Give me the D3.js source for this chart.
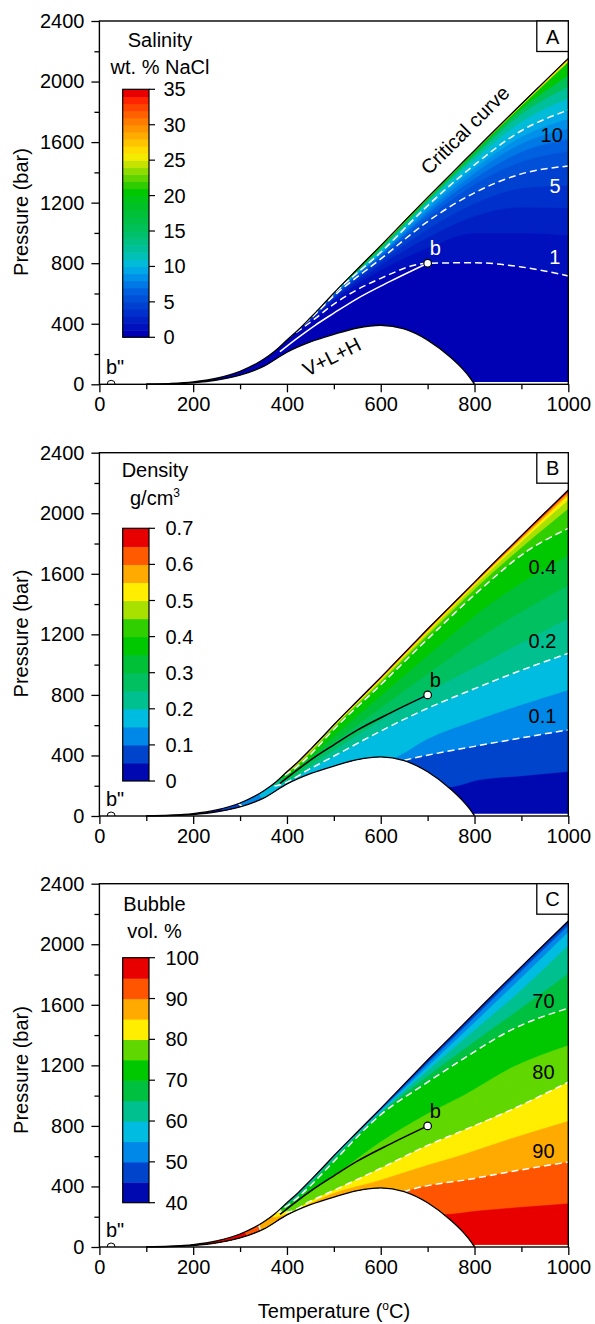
<!DOCTYPE html>
<html>
<head>
<meta charset="utf-8">
<script src="https://cdn.jsdelivr.net/npm/d3@7/dist/d3.min.js"></script>
<style>
html,body{margin:0;padding:0;background:#fff;}
svg{display:block;}
</style>
</head>
<body>
<svg id="fig" width="595" height="1324" xmlns="http://www.w3.org/2000/svg"></svg>
<script>
// ---------------- shared data ----------------
const xTicks = [0, 200, 400, 600, 800, 1000];
const xMinorTicks = [100, 300, 500, 700, 900];
const yTicks = [0, 400, 800, 1200, 1600, 2000, 2400];
const yMinorTicks = [200, 600, 1000, 1400, 1800, 2200];

// critical curve (T degC, P bar)
const criticalCurve = [[100,1],[150,5],[200,15.5],[250,40],[300,86],[350,165],[375,222],[400,292],[425,362],[450,440],[475,520],[500,603],[550,760],[600,916],[650,1076],[700,1235],[750,1390],[800,1545],[850,1700],[900,1852],[950,2003],[1000,2153]];
// V+L+H curve
const vlhCurve = [[100,0.5],[150,3],[200,10],[250,27],[300,60],[350,118],[400,212],[450,280],[500,330],[550,372],[600,390],[650,366],[700,292],[750,175],[775,100],[790,45],[800,0]];
const floorPressure = 15;
const pointB = [700, 800];
const pointB2 = [25, 0];
const pathB = [[385,215],[420,300],[460,390],[500,470],[549,565],[620,680],[700,800]];

// ---------------- panel A: salinity ----------------
const salinityLevels = [1,2,3,4,5,6,7,8,9,10,12,15,20,25,30];
const salinityGridT = [400,450,500,600,700,800,900,1000];
const salinityGridP = [
  [300,410,530,700,800,803,775,716],
  [302,420,555,755,900,1000,1000,985],
  [304,426,568,790,970,1110,1170,1165],
  [306,430,577,810,1025,1195,1295,1315],
  [308,433,583,828,1075,1265,1390,1442],
  [310,435,588,842,1100,1320,1470,1540],
  [312,436,591,852,1125,1360,1535,1620],
  [314,437,594,860,1145,1395,1590,1690],
  [316,438,596,866,1165,1425,1635,1755],
  [318,439,598,872,1180,1450,1675,1812],
  [320,440,600,884,1198,1485,1735,1890],
  [322,441,601,895,1212,1510,1785,1965],
  [324,442,602,904,1222,1528,1820,2040],
  [326,443,602.5,910,1229,1540,1840,2130],
  [328,444,603,913,1233,1544,1849,2145]
];
const salinityDashed = [1,5,10];
const salinityColors = ["#0000b4","#0010bc","#0020c4","#0030cc","#0040d0","#0050d8","#0060e0","#0078e6","#0090ea","#00a8e8","#00bcd8","#00c0b8","#00c09c","#00c084","#00c06c","#00c058","#00c048","#00c038","#00c028","#00c418","#00c800","#30cc00","#60d400","#90dc00","#c4e400","#f4ec00","#ffdc00","#ffc400","#ffac00","#ff9400","#ff7c00","#ff6000","#ff4400","#ff2400","#e80000"];
const salinityCbTicks = [0,5,10,15,20,25,30,35];
const salinityLabels = [["10",964.5,1644,"#000"],["5",971.6,1313,"#fff"],["1",971,838,"#fff"]];

// ---------------- panel B: density ----------------
const densityLevels = [0.05,0.1,0.15,0.2,0.25,0.3,0.35,0.4,0.45,0.5,0.55,0.6,0.65];
const densityIsolines = [
  [[200,100],[250,100],[265,30],[300,42],[370,100],[420,170],[500,250],[600,300],[700,230],[745,192],[811,239],[900,265],[1000,294]],
  [[280,150],[310,60],[370,110],[420,180],[500,260],[600,330],[655,372],[800,460],[1000,569]],
  [[330,250],[350,110],[420,190],[500,280],[560,330],[630,385],[700,510],[800,630],[900,735],[1000,833]],
  [[350,190],[385,206],[450,313],[492,382],[598,558],[700,712],[776,811],[883,943],[1000,1075]],
  [[375,235],[400,240],[450,335],[492,420],[598,630],[700,820],[811,1000],[1000,1306]],
  [[375,235],[400,255],[450,360],[492,465],[598,710],[700,940],[811,1180],[1000,1526]],
  [[375,235],[400,268],[450,385],[492,505],[598,790],[700,1060],[811,1350],[1000,1724]],
  [[375,235],[400,278],[450,405],[492,547],[598,861],[700,1169],[811,1492],[914,1754],[1000,1900]],
  [[375,235],[400,284],[450,420],[492,560],[598,880],[700,1195],[811,1530],[1000,2032]],
  [[375,235],[400,287],[450,428],[492,568],[598,892],[700,1212],[811,1555],[1000,2090]],
  [[375,235],[400,289],[450,433],[492,573],[598,899],[700,1222],[811,1565],[1000,2120]],
  [[375,235],[400,290],[450,436],[492,576],[598,903],[700,1228],[811,1572],[1000,2135]],
  [[375,235],[400,291],[450,438],[492,578],[598,906],[700,1232],[811,1577],[1000,2146]]
];
const densityDashed = [0.1,0.2,0.4];
const densityColors = ["#0008b0","#0044cc","#0088e8","#00bce0","#00c090","#00c060","#00c038","#00c800","#30d000","#a8e000","#ffee00","#ffaa00","#ff5a00","#e80000"];
const densityCbTicks = [0,0.1,0.2,0.3,0.4,0.5,0.6,0.7];
const densityLabels = [["0.4",945,1647,"#000"],["0.2",945,1157,"#000"],["0.1",945,662,"#000"]];

// ---------------- panel C: bubble volume ----------------
const bubbleLevels = [45,50,55,60,65,70,75,80,85,90,95];
const bubbleIsolines = [
  [[50,400],[375,235],[400,291],[450,438],[492,579],[598,906],[700,1228],[811,1570],[883,1793],[1000,2145]],
  [[50,400],[375,235],[400,290],[450,436],[492,576],[598,900],[700,1213],[811,1550],[883,1771],[1000,2123]],
  [[50,400],[375,235],[400,288],[450,433],[492,572],[598,893],[700,1191],[811,1515],[883,1727],[1000,2079]],
  [[50,400],[375,235],[400,285],[450,428],[492,565],[598,886],[700,1165],[811,1460],[883,1650],[1000,1991]],
  [[50,400],[375,235],[400,280],[450,420],[492,555],[598,878],[700,1127],[811,1380],[883,1540],[1000,1804]],
  [[50,400],[375,235],[400,272],[450,405],[492,540],[598,869],[700,1089],[776,1243],[883,1441],[1000,1578]],
  [[50,400],[375,235],[400,255],[450,360],[492,450],[598,690],[700,880],[776,1000],[883,1190],[1000,1331]],
  [[50,400],[375,235],[400,230],[450,303],[492,363],[598,517],[700,671],[776,770],[883,913],[1000,1089]],
  [[50,500],[350,300],[372,195],[400,218],[450,287],[492,345],[598,440],[700,540],[776,610],[883,720],[1000,830]],
  [[50,500],[330,250],[345,110],[380,130],[420,180],[500,250],[620,330],[655,370],[800,453],[900,510],[1000,561]],
  [[50,500],[300,150],[320,55],[370,100],[420,170],[500,250],[600,300],[700,220],[735,215],[811,239],[900,262],[1000,286]]
];
const bubbleDashed = [70,80,90];
const bubbleColors = ["#0008b0","#0044cc","#0088e8","#00bce0","#00c090","#00c040","#00c800","#60d800","#ffee00","#ffaa00","#ff5500","#e80000"];
const bubbleCbTicks = [40,50,60,70,80,90,100];
const bubbleLabels = [["70",947,1626,"#000"],["80",947,1153,"#000"],["90",947,637,"#000"]];

// ---------------- rendering ----------------
const FONT = "'Liberation Sans', Arial, Helvetica, sans-serif";
const FS = 20;
const plotLeft = 99.4, plotRight = 568.3;
const cbLeft = 122.7, cbRight = 149;
const svg = d3.select("#fig").attr("font-family", FONT);
const defs = svg.append("defs");

function addTitle(g, cx, baseline, segs) {
  const t = g.append("text").attr("x", cx).attr("y", baseline)
    .attr("text-anchor", "middle").attr("font-size", FS).attr("fill", "#000");
  segs.forEach(s => {
    if (s.sup) {
      t.append("tspan").attr("font-size", 12).attr("dy", -8).text(s.t);
    } else {
      t.append("tspan").attr("font-size", FS).text(s.t);
    }
  });
}

function drawPanel(cfg) {
  const x = d3.scaleLinear().domain([0, 1000]).range([plotLeft, plotRight]);
  const y = d3.scaleLinear().domain([0, 2400]).range([cfg.bottom, cfg.top]);
  const line = d3.line().x(d => x(d[0])).y(d => y(d[1])).curve(d3.curveMonotoneX);
  const root = svg.append("g");

  const cr = criticalCurve, vl = vlhCurve;
  const crF = cr[0], crL = cr[cr.length - 1], vF = vl[0], vL = vl[vl.length - 1];
  defs.append("clipPath").attr("id", "up-" + cfg.id).append("path")
    .attr("d", line(cr) + `L${x(crL[0])},${y(-3000)}L${x(crF[0])},${y(-3000)}Z`);
  defs.append("clipPath").attr("id", "lo-" + cfg.id).append("path")
    .attr("d", line(vl) + `L${x(vL[0])},${y(floorPressure)}L${x(1000) + 20},${y(floorPressure)}L${x(1000) + 20},${y(9000)}L${x(vF[0]) - 20},${y(9000)}Z`);
  defs.append("clipPath").attr("id", "plot-" + cfg.id).append("rect")
    .attr("x", x(0)).attr("y", y(2400)).attr("width", x(1000) - x(0)).attr("height", y(0) - y(2400));

  const outer = root.append("g").attr("clip-path", `url(#up-${cfg.id})`);
  const inner = outer.append("g").attr("clip-path", `url(#lo-${cfg.id})`);
  inner.append("rect").attr("x", x(0)).attr("y", y(2400))
    .attr("width", x(1000) - x(0)).attr("height", y(0) - y(2400)).attr("fill", cfg.colors[0]);

  const sorted = cfg.isolines.map(iso => iso.slice().sort((a, b) => a[0] - b[0]));
  cfg.levels.forEach((lv, i) => {
    const pts = sorted[i];
    const f = pts[0], l = pts[pts.length - 1];
    const cap = cfg.dir > 0 ? 9000 : -3000;
    const d = line(pts) + `L${x(l[0]) + 30},${y(l[1])}L${x(l[0]) + 30},${y(cap)}L${x(f[0])},${y(cap)}Z`;
    const ci = Math.round((lv - cfg.vmin) / cfg.step);
    inner.append("path").attr("d", d).attr("fill", cfg.colors[ci])
      .attr("stroke", cfg.colors[ci]).attr("stroke-width", 0.4);
  });
  cfg.dashed.forEach(lv => {
    const i = cfg.levels.indexOf(lv);
    inner.append("path").attr("d", line(sorted[i])).attr("fill", "none")
      .attr("stroke", "#fff").attr("stroke-width", 1.5).attr("stroke-dasharray", "7,4");
  });

  // path to b
  root.append("path").attr("d", line(pathB)).attr("fill", "none")
    .attr("stroke", cfg.bColor).attr("stroke-width", 1.5);
  // boundary curves
  root.append("path").attr("d", line(cr)).attr("fill", "none").attr("stroke", "#000").attr("stroke-width", 1.3);
  root.append("path").attr("d", line(vl)).attr("fill", "none").attr("stroke", "#000").attr("stroke-width", 1.3);

  // b'' point
  root.append("g").attr("clip-path", `url(#plot-${cfg.id})`).append("circle")
    .attr("cx", x(pointB2[0])).attr("cy", y(pointB2[1])).attr("r", 4)
    .attr("fill", "#fff").attr("stroke", "#000").attr("stroke-width", 1);
  root.append("text").attr("x", x(pointB2[0]) + 4).attr("y", y(0) - 10)
    .attr("text-anchor", "middle").attr("font-size", FS).text('b"');

  // b point
  root.append("circle").attr("cx", x(pointB[0])).attr("cy", y(pointB[1])).attr("r", 3.8)
    .attr("fill", "#fff").attr("stroke", "#000").attr("stroke-width", 1.2);
  root.append("text").attr("x", x(pointB[0]) + 2).attr("y", y(pointB[1]) - 8)
    .attr("font-size", FS).attr("fill", cfg.bLabelColor).text("b");

  // contour labels
  cfg.labels.forEach(lb => {
    root.append("text").attr("x", x(lb[1])).attr("y", y(lb[2])).attr("dy", "0.35em")
      .attr("text-anchor", "middle").attr("font-size", FS).attr("fill", lb[3]).text(lb[0]);
  });

  if (cfg.extra) cfg.extra(root, x, y);

  // frame
  root.append("rect").attr("x", x(0)).attr("y", y(2400)).attr("width", x(1000) - x(0))
    .attr("height", y(0) - y(2400)).attr("fill", "none").attr("stroke", "#000").attr("stroke-width", 1.4);
  // letter box
  root.append("rect").attr("x", x(1000) - 31.5).attr("y", y(2400)).attr("width", 31.5).attr("height", 30.5)
    .attr("fill", "#fff").attr("stroke", "#000").attr("stroke-width", 1.3);
  root.append("text").attr("x", x(1000) - 15.75).attr("y", y(2400) + 15.5).attr("dy", "0.35em")
    .attr("text-anchor", "middle").attr("font-size", FS).text(cfg.letter);

  // axes
  const styleAxis = s => {
    s.select(".domain").remove();
    s.attr("font-family", FONT).attr("font-size", FS);
    s.selectAll("line").attr("stroke", "#000").attr("stroke-width", 1.3);
    s.selectAll("text").attr("fill", "#000");
  };
  root.append("g").attr("transform", `translate(${x(0)},0)`)
    .call(d3.axisLeft(y).tickValues(yTicks).tickSize(8).tickPadding(7).tickFormat(d3.format("d"))).call(styleAxis);
  root.append("g").attr("transform", `translate(${x(0)},0)`)
    .call(d3.axisLeft(y).tickValues(yMinorTicks).tickSize(5).tickFormat("")).call(styleAxis);
  root.append("g").attr("transform", `translate(0,${y(0)})`)
    .call(d3.axisBottom(x).tickValues(xTicks).tickSize(8).tickPadding(5).tickFormat(d3.format("d"))).call(styleAxis);
  root.append("g").attr("transform", `translate(0,${y(0)})`)
    .call(d3.axisBottom(x).tickValues(xMinorTicks).tickSize(5).tickFormat("")).call(styleAxis);

  // y title
  root.append("text").attr("transform", `translate(28,${cfg.yTitleCenter}) rotate(-90)`)
    .attr("text-anchor", "middle").attr("font-size", FS).text("Pressure (bar)");

  // colorbar
  const n = cfg.colors.length;
  const cy = d3.scaleLinear().domain([cfg.vmin, cfg.vmin + cfg.step * n]).range([cfg.cbBottom, cfg.cbTop]);
  cfg.colors.forEach((c, i) => {
    const y0 = cy(cfg.vmin + i * cfg.step), y1 = cy(cfg.vmin + (i + 1) * cfg.step);
    root.append("rect").attr("x", cbLeft).attr("y", y1).attr("width", cbRight - cbLeft)
      .attr("height", Math.min(y0 - y1 + 0.6, cy(cfg.vmin) - y1)).attr("fill", c);
  });
  root.append("rect").attr("x", cbLeft).attr("y", cfg.cbTop).attr("width", cbRight - cbLeft)
    .attr("height", cfg.cbBottom - cfg.cbTop).attr("fill", "none").attr("stroke", "#000").attr("stroke-width", 1.2);
  cfg.cbTicks.forEach(t => {
    root.append("line").attr("x1", cbRight).attr("x2", cbRight + 6).attr("y1", cy(t)).attr("y2", cy(t))
      .attr("stroke", "#000").attr("stroke-width", 1.2);
    root.append("text").attr("x", cfg.cbLabelX).attr("y", cy(t)).attr("dy", "0.35em")
      .attr("font-size", FS).text(cfg.cbFormat(t));
  });
  cfg.titles.forEach(tl => addTitle(root, tl.cx, tl.y, tl.segs));
}

drawPanel({
  id: "A", top: 21, bottom: 384.3, letter: "A", dir: 1,
  levels: salinityLevels,
  isolines: salinityGridP.map(row => row.map((p, j) => [salinityGridT[j], p])),
  dashed: salinityDashed, colors: salinityColors, vmin: 0, step: 1,
  labels: salinityLabels, bColor: "#fff", bLabelColor: "#fff",
  cbTop: 89.3, cbBottom: 337.3, cbTicks: salinityCbTicks, cbLabelX: 163.5, cbFormat: d3.format("d"),
  yTitleCenter: 212,
  titles: [{cx: 160, y: 46.5, segs: [{t: "Salinity"}]}, {cx: 160, y: 74.3, segs: [{t: "wt. % NaCl"}]}],
  extra: (g, x, y) => {
    g.append("text").attr("transform", `translate(${x(779.6)},${y(1680)}) rotate(-45)`)
      .attr("text-anchor", "middle").attr("dy", "0.35em").attr("font-size", FS).text("Critical curve");
    g.append("text").attr("transform", `translate(${x(495.4)},${y(182)}) rotate(-27)`)
      .attr("text-anchor", "middle").attr("dy", "0.35em").attr("font-size", FS).text("V+L+H");
  }
});

drawPanel({
  id: "B", top: 452.7, bottom: 816, letter: "B", dir: 1,
  levels: densityLevels, isolines: densityIsolines,
  dashed: densityDashed, colors: densityColors, vmin: 0, step: 0.05,
  labels: densityLabels, bColor: "#000", bLabelColor: "#000",
  cbTop: 528.3, cbBottom: 781, cbTicks: densityCbTicks, cbLabelX: 165.5,
  cbFormat: t => t === 0 ? "0" : d3.format(".1f")(t),
  yTitleCenter: 633.5,
  titles: [{cx: 155, y: 476.5, segs: [{t: "Density"}]}, {cx: 155, y: 505, segs: [{t: "g/cm"}, {t: "3", sup: true}]}]
});

drawPanel({
  id: "C", top: 883.7, bottom: 1247, letter: "C", dir: -1,
  levels: bubbleLevels, isolines: bubbleIsolines,
  dashed: bubbleDashed, colors: bubbleColors, vmin: 40, step: 5,
  labels: bubbleLabels, bColor: "#000", bLabelColor: "#000",
  cbTop: 957.7, cbBottom: 1202.7, cbTicks: bubbleCbTicks, cbLabelX: 165.5, cbFormat: d3.format("d"),
  yTitleCenter: 1070,
  titles: [{cx: 154.5, y: 911, segs: [{t: "Bubble"}]}, {cx: 154.5, y: 938, segs: [{t: "vol. %"}]}]
});

// x-axis title
const xt = svg.append("text").attr("x", 334).attr("y", 1317.5).attr("text-anchor", "middle")
  .attr("font-size", FS).attr("font-family", FONT);
xt.append("tspan").text("Temperature (");
xt.append("tspan").attr("font-size", 12).attr("dy", -8).text("o");
xt.append("tspan").attr("font-size", FS).attr("dy", 8).text("C)");
</script>
</body>
</html>
